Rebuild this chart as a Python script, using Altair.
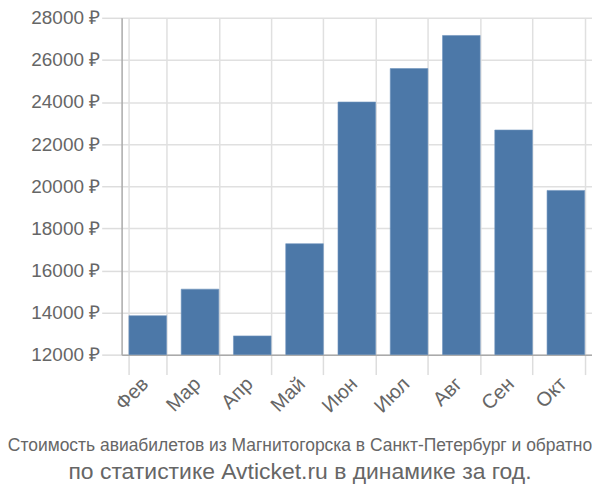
import altair as alt
import pandas as pd

months = ["Фев", "Мар", "Апр", "Май", "Июн", "Июл", "Авг", "Сен", "Окт"]
prices = [13850, 15110, 12890, 17270, 24000, 25590, 27160, 22670, 19800]

df = pd.DataFrame({"month": months, "price": prices})

chart = alt.Chart(df).mark_bar(color="#4c78a8", stroke="#6f93bd", strokeWidth=0.6, clip=True).encode(
    x=alt.X("month:N", sort=months, title=None,
            scale=alt.Scale(paddingInner=0.28, paddingOuter=0.14),
            axis=alt.Axis(labelAngle=-45, labelAlign="right", labelBaseline="middle",
                          labelFontSize=20, labelColor="#666", labelFont="Liberation Sans",
                          tickBand="extent", tickSize=20, tickColor="#ddd", tickWidth=1.5,
                          grid=True, gridColor="#e0e0e0", gridWidth=1.5,
                          domainColor="#aaa", domainWidth=1.5, labelPadding=6, labelOffset=-3)),
    y=alt.Y("price:Q", title=None,
            scale=alt.Scale(domain=[12000, 28000], nice=False, zero=False),
            axis=alt.Axis(values=list(range(12000, 28001, 2000)), labelExpr="datum.value + ' ₽'",
                          labelFontSize=19, labelColor="#666", labelFont="Liberation Sans",
                          tickSize=20, tickColor="#ddd", tickWidth=1.5, labelPadding=2,
                          grid=True, gridColor="#e0e0e0", gridWidth=1.5,
                          domainColor="#aaa", domainWidth=1.5)),
).properties(
    width=472,
    height=338,
    autosize=alt.AutoSizeParams(type="none"),
    padding={"left": 114, "top": 9, "right": 0, "bottom": 137},
    title=alt.TitleParams(
        text="Стоимость авиабилетов из Магнитогорска в Санкт-Петербург и обратно",
        subtitle="по статистике Avticket.ru в динамике за год.",
        orient="bottom", anchor="middle", frame="group",
        font="Liberation Sans", fontSize=17.5, fontWeight="normal", color="#666",
        subtitleFont="Liberation Sans", subtitleFontSize=23, subtitleColor="#666",
        offset=21, subtitlePadding=7, dx=-57,
    ),
).configure_view(stroke=None)

chart.save("out.html", embed_options={"renderer": "svg", "actions": False})
